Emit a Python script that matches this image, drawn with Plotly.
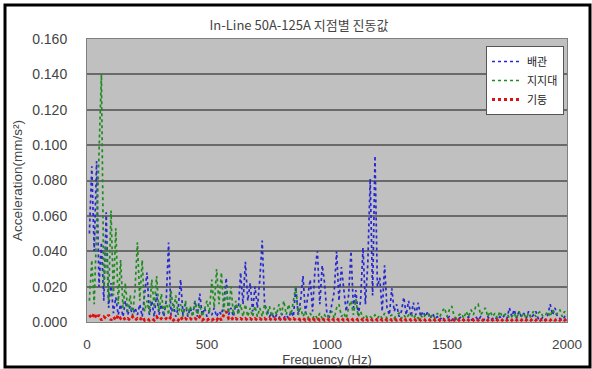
import plotly.graph_objects as go

title_text = "In-Line 50A-125A 지점별 진동값"
series_names = ["배관", "지지대", "기둥"]
x_title = "Frequency (Hz)"
y_title = "Acceleration(mm/s²)"

freq = list(range(10, 2001, 10))

pipe = [
    0.050, 0.088, 0.040, 0.091, 0.020, 0.045, 0.012, 0.062, 0.008, 0.022,
    0.005, 0.014, 0.004, 0.010, 0.003, 0.012, 0.004, 0.009, 0.003, 0.008,
    0.004, 0.010, 0.003, 0.014, 0.028, 0.004, 0.012, 0.003, 0.016, 0.004,
    0.010, 0.003, 0.012, 0.045, 0.004, 0.010, 0.003, 0.008, 0.024, 0.004,
    0.010, 0.003, 0.008, 0.004, 0.012, 0.003, 0.016, 0.004, 0.008, 0.003,
    0.006, 0.004, 0.008, 0.003, 0.006, 0.004, 0.010, 0.025, 0.004, 0.008,
    0.003, 0.010, 0.006, 0.028, 0.010, 0.034, 0.012, 0.022, 0.006, 0.020,
    0.008, 0.024, 0.046, 0.010, 0.006, 0.003, 0.005, 0.002, 0.004, 0.002,
    0.005, 0.002, 0.004, 0.002, 0.006, 0.003, 0.020, 0.004, 0.012, 0.026,
    0.005, 0.016, 0.024, 0.006, 0.030, 0.040, 0.010, 0.032, 0.022, 0.004,
    0.003, 0.010, 0.017, 0.040, 0.012, 0.031, 0.020, 0.006, 0.015, 0.040,
    0.008, 0.018, 0.004, 0.012, 0.042, 0.010, 0.033, 0.081, 0.015, 0.094,
    0.020, 0.025, 0.006, 0.032, 0.008, 0.004, 0.019, 0.006, 0.010, 0.003,
    0.006, 0.014, 0.004, 0.012, 0.003, 0.011, 0.004, 0.011, 0.003, 0.006,
    0.003, 0.006, 0.002, 0.005, 0.002, 0.003, 0.001, 0.003, 0.001, 0.002,
    0.003, 0.001, 0.003, 0.001, 0.002, 0.003, 0.001, 0.002, 0.003, 0.001,
    0.002, 0.003, 0.001, 0.003, 0.001, 0.002, 0.003, 0.001, 0.002, 0.003,
    0.001, 0.003, 0.002, 0.004, 0.002, 0.008, 0.003, 0.007, 0.002, 0.006,
    0.003, 0.005, 0.002, 0.006, 0.002, 0.004, 0.006, 0.002, 0.001, 0.003,
    0.001, 0.004, 0.010, 0.004, 0.008, 0.003, 0.002, 0.001, 0.003, 0.001,
]

support = [
    0.012, 0.035, 0.010, 0.060, 0.095, 0.140, 0.020, 0.045, 0.012, 0.063,
    0.015, 0.053, 0.010, 0.035, 0.008, 0.022, 0.006, 0.015, 0.004, 0.018,
    0.045, 0.012, 0.035, 0.006, 0.012, 0.005, 0.024, 0.008, 0.026, 0.006,
    0.016, 0.005, 0.012, 0.004, 0.018, 0.006, 0.015, 0.004, 0.010, 0.003,
    0.012, 0.004, 0.009, 0.003, 0.012, 0.004, 0.010, 0.003, 0.008, 0.012,
    0.005, 0.024, 0.008, 0.030, 0.010, 0.028, 0.006, 0.020, 0.005, 0.020,
    0.004, 0.012, 0.004, 0.010, 0.003, 0.010, 0.003, 0.008, 0.003, 0.009,
    0.003, 0.008, 0.003, 0.010, 0.004, 0.009, 0.003, 0.008, 0.004, 0.010,
    0.004, 0.012, 0.004, 0.010, 0.004, 0.011, 0.020, 0.004, 0.008, 0.003,
    0.006, 0.002, 0.005, 0.002, 0.004, 0.002, 0.005, 0.002, 0.004, 0.002,
    0.004, 0.006, 0.002, 0.008, 0.010, 0.003, 0.005, 0.002, 0.008, 0.012,
    0.004, 0.013, 0.003, 0.006, 0.002, 0.004, 0.002, 0.003, 0.002, 0.004,
    0.002, 0.004, 0.002, 0.005, 0.002, 0.003, 0.004, 0.002, 0.004, 0.005,
    0.002, 0.004, 0.002, 0.004, 0.005, 0.002, 0.004, 0.002, 0.004, 0.002,
    0.004, 0.005, 0.002, 0.004, 0.002, 0.005, 0.003, 0.006, 0.008, 0.003,
    0.007, 0.009, 0.003, 0.002, 0.004, 0.005, 0.002, 0.006, 0.003, 0.007,
    0.004, 0.009, 0.010, 0.004, 0.006, 0.008, 0.003, 0.006, 0.003, 0.005,
    0.002, 0.006, 0.003, 0.004, 0.005, 0.002, 0.003, 0.005, 0.002, 0.006,
    0.003, 0.005, 0.002, 0.005, 0.003, 0.006, 0.003, 0.005, 0.006, 0.003,
    0.004, 0.006, 0.003, 0.007, 0.004, 0.005, 0.007, 0.003, 0.006, 0.004,
]

column = [
    0.004, 0.002, 0.005, 0.002, 0.004, 0.001, 0.003, 0.002, 0.004, 0.001,
    0.003, 0.001, 0.004, 0.002, 0.003, 0.001, 0.002, 0.001, 0.003, 0.001,
    0.002, 0.001, 0.003, 0.001, 0.002, 0.001, 0.002, 0.001, 0.003, 0.001,
    0.002, 0.001, 0.002, 0.001, 0.003, 0.001, 0.002, 0.001, 0.003, 0.001,
    0.002, 0.001, 0.002, 0.001, 0.002, 0.001, 0.003, 0.001, 0.002, 0.001,
    0.002, 0.001, 0.002, 0.001, 0.003, 0.001, 0.004, 0.006, 0.002, 0.003,
    0.001, 0.002, 0.001, 0.002, 0.001, 0.002, 0.001, 0.002, 0.001, 0.002,
    0.001, 0.002, 0.001, 0.002, 0.001, 0.002, 0.001, 0.002, 0.001, 0.002,
    0.001, 0.002, 0.001, 0.002, 0.001, 0.002, 0.001, 0.002, 0.001, 0.002,
    0.001, 0.002, 0.001, 0.002, 0.001, 0.002, 0.001, 0.002, 0.001, 0.002,
    0.001, 0.002, 0.001, 0.002, 0.001, 0.002, 0.001, 0.002, 0.001, 0.002,
    0.001, 0.002, 0.001, 0.002, 0.001, 0.002, 0.001, 0.002, 0.001, 0.002,
    0.001, 0.002, 0.001, 0.002, 0.001, 0.002, 0.001, 0.002, 0.001, 0.002,
    0.001, 0.002, 0.001, 0.002, 0.001, 0.002, 0.001, 0.002, 0.001, 0.002,
    0.001, 0.002, 0.001, 0.002, 0.001, 0.002, 0.001, 0.002, 0.001, 0.002,
    0.001, 0.002, 0.001, 0.002, 0.001, 0.002, 0.001, 0.002, 0.001, 0.002,
    0.001, 0.002, 0.001, 0.002, 0.001, 0.002, 0.001, 0.002, 0.001, 0.002,
    0.001, 0.002, 0.001, 0.002, 0.001, 0.002, 0.001, 0.002, 0.001, 0.002,
    0.001, 0.002, 0.001, 0.002, 0.001, 0.002, 0.001, 0.002, 0.001, 0.002,
    0.001, 0.002, 0.001, 0.002, 0.001, 0.002, 0.001, 0.002, 0.001, 0.002,
]

y_ticks = [0.0, 0.02, 0.04, 0.06, 0.08, 0.10, 0.12, 0.14, 0.16]
x_ticks = [0, 500, 1000, 1500, 2000]

W, H = 592, 369
ML, MR, MT, MB = 87, 25, 39, 47

font_fam = "Liberation Sans, Noto Sans CJK KR, sans-serif"
kr_fam = "Noto Sans CJK KR, sans-serif"

fig = go.Figure()
fig.add_trace(go.Scatter(x=freq, y=pipe, name=series_names[0], mode="lines",
                         line=dict(color="#2828d0", width=1.7, dash="dot")))
fig.add_trace(go.Scatter(x=freq, y=support, name=series_names[1], mode="lines",
                         line=dict(color="#1e8c1e", width=1.7, dash="dot")))
fig.add_trace(go.Scatter(x=freq, y=column, name=series_names[2], mode="lines",
                         line=dict(color="#e01010", width=2.8, dash="dot")))

pw = W - ML - MR
ph = H - MT - MB
def px_x(p):
    return (p - ML) / pw
def px_y(p):
    return (H - MB - p) / ph

fig.update_layout(
    width=W, height=H,
    margin=dict(l=ML, r=MR, t=MT, b=MB, pad=0, autoexpand=False),
    paper_bgcolor="white",
    plot_bgcolor="#c0c0c0",
    font=dict(family=font_fam, color="#444444", size=13),
    showlegend=True,
    legend=dict(x=px_x(564), y=px_y(46), xanchor="right", yanchor="top",
                bgcolor="white", bordercolor="#555555", borderwidth=1,
                font=dict(size=11, color="#222222", family=kr_fam),
                itemwidth=30, tracegroupgap=0),
    title=dict(text=title_text, xref="container", x=299 / W, xanchor="center",
               yref="container", y=1 - 25 / H, yanchor="middle",
               font=dict(size=13, color="#444444", family=kr_fam)),
    xaxis=dict(range=[0, 2000], tickvals=x_ticks, showgrid=False, zeroline=False,
               showline=True, linecolor="#808080", linewidth=1, mirror=True,
               ticks="", ticklabelstandoff=10, automargin=False,
               tickfont=dict(size=13.5, color="#444444"),
               title=dict(text=x_title, standoff=0, font=dict(size=13, color="#444444"))),
    yaxis=dict(range=[0, 0.16], tickvals=y_ticks, tickformat=".3f",
               showgrid=True, gridcolor="#6a6a6a", gridwidth=1.5,
               zeroline=False, showline=True, linecolor="#808080", linewidth=1, mirror=True,
               ticks="", ticklabelstandoff=16, automargin=False,
               tickfont=dict(size=14, color="#444444"),
               title=dict(text=y_title, standoff=6, font=dict(size=13.5, color="#444444"))),
    shapes=[dict(type="rect", xref="paper", yref="paper",
                 x0=px_x(5), x1=px_x(590), y0=px_y(367), y1=px_y(5),
                 line=dict(color="black", width=3), fillcolor="rgba(0,0,0,0)", layer="above")],
)

fig.write_html("out.html")
